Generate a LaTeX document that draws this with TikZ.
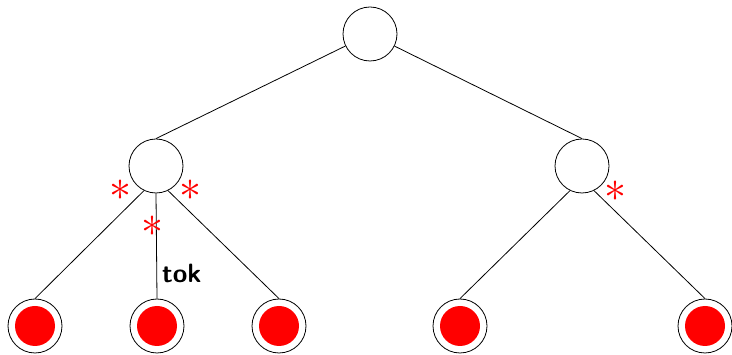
\RequirePackage{fix-cm}
\documentclass[tikz,border=0pt]{standalone}
\begin{document}
\begin{tikzpicture}[x=1pt,y=-1pt,
  inner/.style={draw,circle,line width=0.8pt,minimum size=54pt,inner sep=0pt},
  leaf/.style={draw,circle,line width=0.8pt,minimum size=54pt,inner sep=0pt,
    path picture={\fill[red] (path picture bounding box.center) circle (20pt);}},
  edge/.style={line width=0.8pt},
  star/.style={text=red,inner sep=0pt,font=\fontsize{44}{44}\selectfont},
  lbl/.style={inner sep=0pt,anchor=base west,font=\fontsize{26.5}{26.5}\selectfont\sffamily\bfseries}]
\useasboundingbox (0,0) rectangle (732,355);
% internal nodes
\node[inner] (root) at (370,34) {};
\node[inner] (a) at (156,166) {};
\node[inner] (b) at (582,166) {};
% leaves
\node[leaf] (a1) at (35,326) {};
\node[leaf] (a2) at (157,326) {};
\node[leaf] (a3) at (279,326) {};
\node[leaf] (b1) at (460,326) {};
\node[leaf] (b2) at (705,326) {};
% edges
\draw[edge] (root) -- (a.north);
\draw[edge] (root) -- (b.north);
\draw[edge] (a.244) -- (a1.north);
\draw[edge] (a.270) -- (a2.north);
\draw[edge] (a.296) -- (a3.north);
\draw[edge] (b.244) -- (b1.north);
\draw[edge] (b.296) -- (b2.north);
% marks
\node[star] (s1) at (120,190) {$\ast$};
\node[star] (s2) at (190,190) {$\ast$};
\node[star] (s3) at (152,226) {$\ast$};
\node[star] (s4) at (615,191) {$\ast$};
\node[lbl] (t) at (162,283) {tok};
\end{tikzpicture}
\end{document}
